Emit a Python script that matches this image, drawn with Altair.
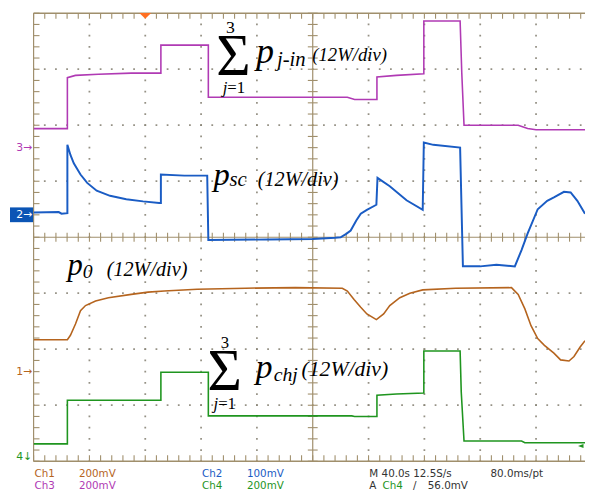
import altair as alt
import numpy as np
import pandas as pd

# ---------------- data (x in divisions, y in divisions) ----------------
ch3_t = [0, 0.605, 0.605, 0.75, 1.16, 1.75, 2.28, 2.28, 3.13, 3.13, 5.62, 5.75, 6.15, 6.15, 6.5, 6.99, 6.99,
         7.64, 7.67, 7.71, 8.68, 8.85, 9.0, 9.877]
ch3_v = [1.94, 1.94, 2.85, 2.89, 2.91, 2.93, 2.93, 3.43, 3.43, 2.50, 2.50, 2.46, 2.46, 2.86, 2.89, 2.92, 3.86,
         3.86, 2.93, 2.00, 2.00, 1.94, 1.92, 1.92]

ch2_t = [0, 0.45, 0.5, 0.605, 0.605, 0.66, 0.72, 0.84, 0.96, 1.13, 1.37, 1.66, 1.96, 2.25, 2.28, 2.28, 2.7,
         3.11, 3.13, 4.2, 5.0, 5.40, 5.50, 5.60, 5.68, 5.78, 5.86, 5.97, 6.14, 6.16, 6.38, 6.68, 6.97, 6.99,
         7.16, 7.64, 7.69, 8.0, 8.29, 8.62, 8.74, 8.85, 9.03, 9.20, 9.32, 9.50, 9.62, 9.74, 9.877]
ch2_v = [0.44, 0.45, 0.42, 0.43, 1.65, 1.47, 1.32, 1.12, 0.97, 0.83, 0.74, 0.68, 0.64, 0.61, 0.61, 1.12, 1.10,
         1.10, -0.05, -0.04, -0.03, -0.01, 0.0, 0.06, 0.12, 0.30, 0.42, 0.49, 0.58, 1.06, 0.91, 0.66, 0.49, 1.69,
         1.65, 1.60, -0.52, -0.52, -0.49, -0.52, -0.23, 0.07, 0.50, 0.65, 0.71, 0.81, 0.80, 0.65, 0.42]

ch1_t = [0, 0.605, 0.66, 0.75, 0.84, 0.93, 1.11, 1.34, 1.75, 2.05, 2.34, 2.93, 3.8, 4.69, 5.53, 5.62, 5.74,
         5.86, 5.97, 6.14, 6.27, 6.38, 6.56, 6.74, 6.97, 7.56, 8.56, 8.68, 8.80, 8.91, 9.03, 9.15, 9.32, 9.44,
         9.59, 9.68, 9.79, 9.877]
ch1_v = [-1.83, -1.83, -1.75, -1.55, -1.31, -1.22, -1.14, -1.08, -1.02, -0.98, -0.96, -0.93, -0.91, -0.90,
         -0.91, -0.96, -1.11, -1.25, -1.37, -1.47, -1.37, -1.22, -1.08, -1.00, -0.94, -0.91, -0.90, -1.02,
         -1.28, -1.58, -1.81, -1.93, -2.07, -2.19, -2.21, -2.13, -1.96, -1.85]

ch4_t = [0, 0.605, 0.605, 2.28, 2.28, 3.13, 3.13, 5.70, 5.75, 6.15, 6.15, 6.50, 6.99, 6.99, 7.64, 7.66, 7.71,
         8.74, 8.80, 9.877]
ch4_v = [-3.69, -3.69, -2.91, -2.91, -2.41, -2.41, -3.19, -3.19, -3.20, -3.20, -2.82, -2.80, -2.78, -2.03,
         -2.03, -2.76, -3.64, -3.64, -3.67, -3.67]

grid_x = [1, 2, 3, 4, 6, 7, 8, 9]
grid_y = [-3, -2, -1, 1, 2, 3]
trigger_t = [2.0]

# annotation texts
ann_text = ["3", "\u03a3", "j", "=1", "p", "j-in", "(12W/div)",
            "p", "sc", "(12W/div)",
            "p", "0", "(12W/div)",
            "3", "\u03a3", "j", "=1", "p", "chj", "(12W/div)"]
ann_t = [3.527, 3.58, 3.47, 3.47, 3.99, 4.36, 4.991,
         3.222, 3.51, 4.016,
         0.605, 0.882, 1.310,
         3.427, 3.422, 3.306, 3.306, 3.98, 4.30, 4.80]
ann_v = [3.64, 2.901, 2.58, 2.58, 3.112, 3.06, 3.147,
         0.932, 0.914, 0.914,
         -0.668, -0.72, -0.698,
         -1.97, -2.725, -3.06, -3.06, -2.514, -2.567, -2.479]
ann_size = [18, 60, 17, 17, 36, 21, 19,
            33, 21, 20.5,
            31, 20, 20.5,
            17, 60, 17, 17, 34, 20, 22]
ann_italic = [False, False, True, False, True, True, True,
              True, True, True,
              True, True, True,
              False, False, True, False, True, True, True]
ann_align = ["center", "center", "right", "left", "left", "left", "left",
             "left", "left", "left",
             "left", "left", "left",
             "center", "center", "right", "left", "left", "left", "left"]

# status bar texts
status_text = ["Ch1", "200mV", "Ch2", "100mV", "M 40.0s 12.5S/s", "80.0ms/pt",
               "Ch3", "200mV", "Ch4", "200mV", "A", "Ch4", "/", "56.0mV"]
status_x = [1, 46, 171, 216.7, 341, 464, 1, 46, 171, 216.7, 341, 354.3, 385.3, 400.3]
status_row = [0, 0, 0, 0, 0, 0, 1, 1, 1, 1, 1, 1, 1, 1]

# ---------------- styling ----------------
W, H = 560, 455
XMAX = 9.877
TAN = "#A08F6C"
DOT = "#8A8578"
MAG = "#B03AB4"
BLUE = "#1A5CC4"
BOX = "#0B55B5"
ORANGE = "#B5641E"
GREEN = "#1F951F"
TRIG = "#FF6F22"
DARK = "#333333"
status_color = [ORANGE, ORANGE, BLUE, BLUE, DARK, DARK, MAG, MAG, GREEN, GREEN, DARK, GREEN, DARK, DARK]

xs = alt.Scale(domain=[0, XMAX], nice=False, zero=False)
ys = alt.Scale(domain=[-4, 4], nice=False, zero=False)


def X(f):
    return alt.X(f, type="quantitative", scale=xs, axis=None)


def Y(f):
    return alt.Y(f, type="quantitative", scale=ys, axis=None)


layers = []

minor_t = [round(0.2 * k, 2) for k in range(0, 50)]
minor_v = [round(-4 + 0.2 * k, 2) for k in range(0, 41)]

# dotted grid: small dots every 0.2 div along each grid line
gx = [(a, b) for a in grid_x for b in minor_v]
layers.append(alt.Chart(pd.DataFrame({"t": [p[0] for p in gx], "v": [p[1] for p in gx]})).mark_square(
    size=3.2, color=DOT, opacity=0.9, clip=True).encode(x=X("t"), y=Y("v")))
gy = [(a, b) for a in minor_t for b in grid_y]
layers.append(alt.Chart(pd.DataFrame({"t": [p[0] for p in gy], "v": [p[1] for p in gy]})).mark_square(
    size=3.2, color=DOT, opacity=0.9, clip=True).encode(x=X("t"), y=Y("v")))

# center cross and border
layers.append(alt.Chart(pd.DataFrame({"t": [5, 0]})).mark_rule(color=TAN, strokeWidth=1.2).encode(x=X("t")))
layers.append(alt.Chart(pd.DataFrame({"v": [0]})).mark_rule(color=TAN, strokeWidth=1.2).encode(y=Y("v")))
layers.append(alt.Chart(pd.DataFrame({"v": [4, -4]})).mark_rule(color=TAN, strokeWidth=1.5).encode(y=Y("v")))

# ticks on center lines
layers.append(alt.Chart(pd.DataFrame({"t": minor_t, "v": [0] * len(minor_t)})).mark_rule(
    color=TAN, strokeWidth=1.1, yOffset=-4.5, y2Offset=4.5).encode(x=X("t"), y=Y("v"), y2="v:Q"))
layers.append(alt.Chart(pd.DataFrame({"t": [5] * len(minor_v), "v": minor_v})).mark_rule(
    color=TAN, strokeWidth=1.1, xOffset=-5, x2Offset=5).encode(x=X("t"), x2="t:Q", y=Y("v")))
# ticks on border
layers.append(alt.Chart(pd.DataFrame({"t": minor_t, "v": [4] * len(minor_t)})).mark_rule(
    color=TAN, strokeWidth=1.1, yOffset=0, y2Offset=5.5).encode(x=X("t"), y=Y("v"), y2="v:Q"))
layers.append(alt.Chart(pd.DataFrame({"t": minor_t, "v": [-4] * len(minor_t)})).mark_rule(
    color=TAN, strokeWidth=1.1, yOffset=0, y2Offset=-6).encode(x=X("t"), y=Y("v"), y2="v:Q"))
layers.append(alt.Chart(pd.DataFrame({"t": [0] * len(minor_v), "v": minor_v})).mark_rule(
    color=TAN, strokeWidth=1.1, xOffset=0, x2Offset=6).encode(x=X("t"), x2="t:Q", y=Y("v")))


def trace(t, v, color, w):
    df = pd.DataFrame({"t": t, "v": v, "i": list(range(len(t)))})
    return alt.Chart(df).mark_line(color=color, strokeWidth=w, clip=True).encode(
        x=X("t"), y=Y("v"), order=alt.Order("i:Q"))


layers.append(trace(ch3_t, ch3_v, MAG, 1.6))
layers.append(trace(ch1_t, ch1_v, ORANGE, 1.6))
layers.append(trace(ch4_t, ch4_v, GREEN, 1.6))
layers.append(trace(ch2_t, ch2_v, BLUE, 2.0))

# annotations
for s, t, v, sz, it, al in zip(ann_text, ann_t, ann_v, ann_size, ann_italic, ann_align):
    df = pd.DataFrame({"t": [t], "v": [v], "s": [s]})
    layers.append(alt.Chart(df).mark_text(
        align=al, baseline="alphabetic", fontSize=sz, font="Liberation Serif",
        fontStyle="italic" if it else "normal", color="black").encode(x=X("t"), y=Y("v"), text="s:N"))

# trigger marker at top
layers.append(alt.Chart(pd.DataFrame({"t": trigger_t})).mark_point(
    shape="M-1,-0.5L1,-0.5L0,0.5Z", size=144, filled=True, color=TRIG, opacity=1).encode(
    x=X("t"), y=alt.value(2.7)))

# trigger level marker at right (green)
layers.append(alt.Chart(pd.DataFrame({"v": [-3.727]})).mark_point(
    shape="M1,-0.6L-0.6,0L1,0.6Z", size=49, filled=True, color=GREEN, opacity=1).encode(
    x=alt.value(555), y=Y("v")))

# channel ground markers on left
layers.append(alt.Chart(pd.DataFrame({"a": [0]})).mark_rect(color=BOX).encode(
    x=alt.value(-24), x2=alt.value(-0.5), y=alt.value(197.2), y2=alt.value(212.2)))
marker_text = ["3\u2192", "2\u2192", "1\u2192", "4\u2193"]
marker_v = [1.6, 0.4, -2.414, -3.92]
marker_color = [MAG, "white", ORANGE, GREEN]
for s, v, c in zip(marker_text, marker_v, marker_color):
    df = pd.DataFrame({"v": [v], "s": [s]})
    layers.append(alt.Chart(df).mark_text(
        align="right", baseline="middle", fontSize=11, font="DejaVu Sans", color=c).encode(
        x=alt.value(-1.5), y=Y("v"), text="s:N"))

# status bar
for s, x, r, c in zip(status_text, status_x, status_row, status_color):
    df = pd.DataFrame({"s": [s]})
    layers.append(alt.Chart(df).mark_text(
        align="left", baseline="alphabetic", fontSize=10.5, font="DejaVu Sans", color=c).encode(
        x=alt.value(x), y=alt.value(471.2 if r == 0 else 482.8), text="s:N"))

chart = alt.layer(*layers).properties(
    width=W, height=H,
    autosize=alt.AutoSizeParams(type="none"),
    padding={"left": 26, "top": 1.5, "right": 0, "bottom": 32.5},
    background="white",
).configure_view(strokeWidth=0)

chart.save("out.html", embed_options={"renderer": "svg", "actions": False})
